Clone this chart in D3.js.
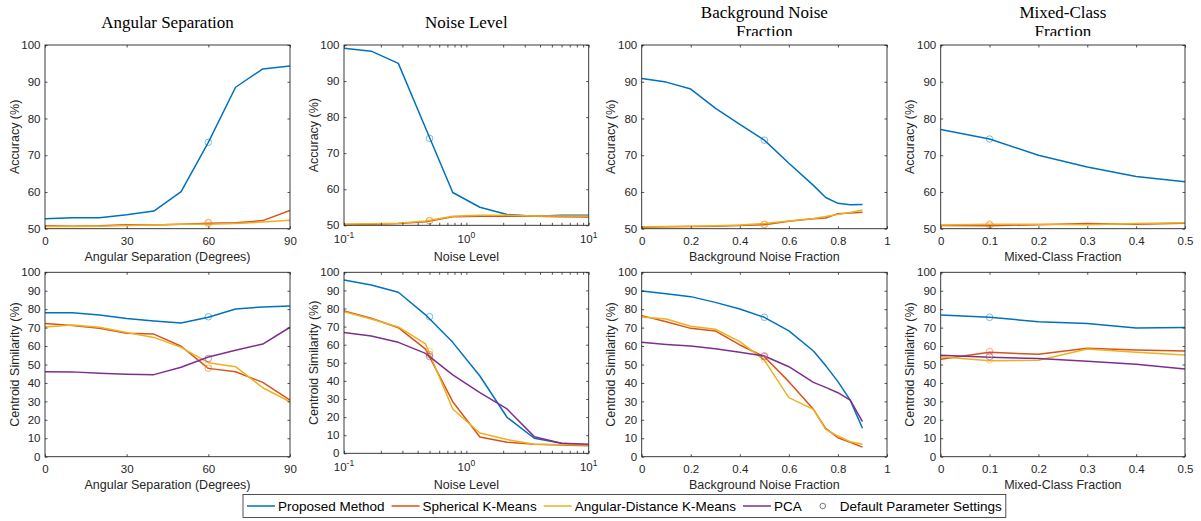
<!DOCTYPE html>
<html><head><meta charset="utf-8">
<script src="https://cdn.jsdelivr.net/npm/d3@7"></script>
<style>body{margin:0;background:#fff} svg{display:block}</style>
</head><body><svg id="c" width="1201" height="521"></svg>
<script>
// ---------- data ----------
const angSep   = [0, 10, 20, 30, 40, 50, 60, 70, 80, 90];
const noiseLvl = [0.1, 0.167, 0.278, 0.464, 0.774, 1.29, 2.15, 3.59, 5.99, 10];
const bgFrac   = [0, 0.1, 0.2, 0.3, 0.4, 0.5, 0.6, 0.7, 0.75, 0.8, 0.85, 0.9];
const mixFrac  = [0, 0.1, 0.2, 0.3, 0.4, 0.5];

const methodNames = ["Proposed Method", "Spherical K-Means", "Angular-Distance K-Means", "PCA"];
const defaultLabel = "Default Parameter Settings";
const titles = [["Angular Separation"], ["Noise Level"], ["Background Noise", "Fraction"], ["Mixed-Class", "Fraction"]];
const xLabels = ["Angular Separation (Degrees)", "Noise Level", "Background Noise Fraction", "Mixed-Class Fraction"];
const yLabels = ["Accuracy (%)", "Centroid Similarity (%)"];

const angTicks = [0, 30, 60, 90];
const noiseTicks = [0.1, 1, 10];
const noiseTickExp = ["-1", "0", "1"];
const bgTicks = [0, 0.2, 0.4, 0.6, 0.8, 1];
const mixTicks = [0, 0.1, 0.2, 0.3, 0.4, 0.5];
const accTicks = [50, 60, 70, 80, 90, 100];
const centTicks = [0, 10, 20, 30, 40, 50, 60, 70, 80, 90, 100];

// accuracy
const accAngProp = [52.7, 53.0, 53.0, 53.8, 54.8, 60.1, 73.5, 88.5, 93.5, 94.3];
const accAngSph  = [50.8, 50.7, 50.8, 51.1, 51.0, 51.2, 51.5, 51.6, 52.2, 55.0];
const accAngAng  = [50.6, 50.6, 50.7, 50.9, 51.0, 51.2, 51.2, 51.4, 51.8, 52.3];

const accNoiseProp = [99.1, 98.3, 94.9, 77.0, 59.1, 55.0, 53.0, 52.5, 52.8, 52.8];
const accNoiseSph  = [50.2, 50.3, 50.5, 51.0, 52.4, 52.5, 52.5, 52.5, 52.4, 52.3];
const accNoiseAng  = [50.3, 50.4, 50.6, 51.2, 52.5, 52.8, 52.8, 52.6, 52.6, 52.6];

const accBgProp = [90.9, 89.9, 88.0, 82.8, 78.4, 74.1, 67.8, 61.8, 58.5, 56.9, 56.5, 56.6];
const accBgSph  = [50.4, 50.5, 50.6, 50.7, 50.9, 51.1, 52.0, 52.7, 52.9, 54.1, 54.3, 54.5];
const accBgAng  = [50.5, 50.6, 50.7, 50.8, 51.0, 51.4, 52.1, 52.8, 53.3, 53.9, 54.4, 55.1];

const accMixProp = [77.0, 74.4, 70.0, 66.8, 64.2, 62.8];
const accMixSph  = [50.9, 50.8, 51.1, 51.4, 51.2, 51.5];
const accMixAng  = [51.0, 51.2, 51.2, 51.1, 51.4, 51.6];

// centroid similarity
const centAngProp = [78.1, 78.1, 76.9, 75.0, 73.6, 72.5, 75.6, 80.1, 81.2, 81.7];
const centAngSph  = [72.3, 71.1, 69.6, 66.9, 66.5, 59.9, 47.9, 46.1, 40.3, 30.7];
const centAngAng  = [70.3, 71.4, 70.2, 67.3, 64.7, 59.3, 51.0, 48.8, 37.4, 29.8];
const centAngPca  = [46.1, 46.0, 45.2, 44.7, 44.5, 48.5, 54.1, 57.7, 61.1, 70.2];

const centNoiseProp = [95.8, 93.0, 89.0, 76.5, 61.3, 42.7, 19.9, 8.3, 5.5, 4.6];
const centNoiseSph  = [78.6, 74.6, 69.4, 57.6, 28.5, 9.0, 6.1, 5.0, 4.6, 4.2];
const centNoiseAng  = [78.2, 74.2, 69.8, 60.4, 24.5, 11.2, 7.6, 5.0, 4.8, 4.6];
const centNoisePca  = [66.7, 64.8, 61.3, 55.2, 43.3, 33.5, 24.5, 9.2, 5.5, 5.0];

const centBgProp = [89.9, 88.4, 86.8, 83.7, 80.1, 75.6, 68.2, 57.3, 49.4, 40.7, 30.7, 15.4];
const centBgSph  = [76.5, 73.2, 69.6, 68.2, 60.6, 54.2, 40.7, 25.7, 15.4, 10.3, 7.8, 5.2];
const centBgAng  = [75.8, 74.7, 70.7, 69.1, 62.4, 52.4, 32.0, 25.7, 14.8, 11.2, 8.1, 6.7];
const centBgPca  = [62.0, 60.9, 60.0, 58.5, 56.6, 54.6, 48.8, 40.3, 37.6, 34.7, 30.7, 19.0];

const centMixProp = [76.9, 75.6, 73.2, 72.3, 69.8, 70.0];
const centMixSph  = [52.8, 56.6, 55.5, 58.8, 57.9, 57.3];
const centMixAng  = [54.2, 52.1, 52.3, 58.4, 56.6, 55.2];
const centMixPca  = [55.0, 53.9, 53.2, 51.7, 50.1, 47.6];

// default parameter settings (x, then values per method)
const defX = [60, 0.5, 0.5, 0.1];
const accDefaults  = [[73.5, 51.7, 51.3], [74.1, 51.3, 51.2], [74.1, 51.2, 51.1], [74.4, 51.0, 51.3]];
const centDefaults = [[75.9, 48.0, 50.0, 53.3], [75.5, 54.5, 56.3, 53.5], [75.6, 54.8, 52.8, 54.2], [75.6, 57.0, 52.5, 54.3]];

// ---------- style / layout ----------
const colors = ["#0072BD", "#D95319", "#EDB120", "#7E2F8E"];
const sans = "'Liberation Sans', Arial, Helvetica, sans-serif";
const serif = "'Liberation Serif', 'Times New Roman', serif";
const ink = "#262626";
const cols = [{x0: 45, x1: 290}, {x0: 344, x1: 588.7}, {x0: 641.7, x1: 887}, {x0: 940.7, x1: 1185}];
const rows = [{y0: 45, y1: 228.7, y1log: 225.3, lab: 261}, {y0: 272.3, y1: 456.7, y1log: 453.3, lab: 489}];
const tickLen = 2.5;

const xsList = [angSep, noiseLvl, bgFrac, mixFrac];
const xDomains = [[0, 90], [0.1, 10], [0, 1], [0, 0.5]];
const xTickList = [angTicks, noiseTicks, bgTicks, mixTicks];
const accSeries = [[accAngProp, accAngSph, accAngAng], [accNoiseProp, accNoiseSph, accNoiseAng],
                   [accBgProp, accBgSph, accBgAng], [accMixProp, accMixSph, accMixAng]];
const centSeries = [[centAngProp, centAngSph, centAngAng, centAngPca], [centNoiseProp, centNoiseSph, centNoiseAng, centNoisePca],
                    [centBgProp, centBgSph, centBgAng, centBgPca], [centMixProp, centMixSph, centMixAng, centMixPca]];

const svg = d3.select("#c");
svg.append("rect").attr("width", 1201).attr("height", 521).attr("fill", "#fff");

// title clip (second line partly hidden by the axes area)
svg.append("clipPath").attr("id", "titleClip").append("rect").attr("x", 0).attr("y", 0).attr("width", 1201).attr("height", 36);

function styleAxis(g) {
  g.attr("font-family", sans).attr("font-size", 11.5);
  g.selectAll("path.domain").remove();
  g.selectAll("line").attr("stroke", ink).attr("stroke-width", 0.8);
  g.selectAll("text").attr("fill", ink);
}

function drawPanel(col, row) {
  const c = cols[col], r = rows[row];
  const isLog = col === 1;
  const y1 = isLog ? r.y1log : r.y1;
  const x = (isLog ? d3.scaleLog() : d3.scaleLinear()).domain(xDomains[col]).range([c.x0, c.x1]);
  const y = d3.scaleLinear().domain(row === 0 ? [50, 100] : [0, 100]).range([y1, r.y0]);
  const yt = row === 0 ? accTicks : centTicks;
  const g = svg.append("g");

  const clipId = "clip" + col + "_" + row;
  g.append("clipPath").attr("id", clipId).append("rect")
    .attr("x", c.x0).attr("y", r.y0).attr("width", c.x1 - c.x0).attr("height", y1 - r.y0);

  const series = row === 0 ? accSeries[col] : centSeries[col];
  const xs = xsList[col];
  const line = d3.line().x((d, i) => x(xs[i])).y(d => y(d));
  const plot = g.append("g").attr("clip-path", `url(#${clipId})`);
  series.forEach((vals, k) => {
    plot.append("path").datum(vals).attr("d", line)
      .attr("fill", "none").attr("stroke", colors[k]).attr("stroke-width", 1.5).attr("stroke-linejoin", "round");
  });
  const defs = row === 0 ? accDefaults[col] : centDefaults[col];
  defs.forEach((v, k) => {
    g.append("circle").attr("cx", x(defX[col])).attr("cy", y(v)).attr("r", 3.3)
      .attr("fill", "none").attr("stroke", colors[k]).attr("stroke-opacity", 0.55).attr("stroke-width", 0.9);
  });

  // axes
  const xt = xTickList[col];
  let minor = [];
  if (isLog) {
    [0.1, 1].forEach(b => { for (let m = 2; m <= 9; m++) minor.push(b * m); });
  }
  const bottom = g.append("g").attr("transform", `translate(0,${y1})`)
    .call(d3.axisBottom(x).tickValues(xt).tickSize(-tickLen).tickSizeOuter(0).tickPadding(8)
      .tickFormat(isLog ? () => "" : d => String(d)));
  styleAxis(bottom);
  const top = g.append("g").attr("transform", `translate(0,${r.y0})`)
    .call(d3.axisTop(x).tickValues(xt).tickSize(-tickLen).tickSizeOuter(0).tickFormat(() => ""));
  styleAxis(top);
  if (isLog) {
    const mb = g.append("g").attr("transform", `translate(0,${y1})`)
      .call(d3.axisBottom(x).tickValues(minor).tickSize(-tickLen).tickSizeOuter(0).tickFormat(() => ""));
    styleAxis(mb);
    const mt = g.append("g").attr("transform", `translate(0,${r.y0})`)
      .call(d3.axisTop(x).tickValues(minor).tickSize(-tickLen).tickSizeOuter(0).tickFormat(() => ""));
    styleAxis(mt);
    xt.forEach((v, i) => {
      const t = g.append("text").attr("x", x(v)).attr("y", y1 + 18).attr("text-anchor", "middle")
        .attr("font-family", sans).attr("font-size", 11.5).attr("fill", ink);
      t.append("tspan").text("10");
      t.append("tspan").attr("dy", -5).attr("font-size", 8.5).text(noiseTickExp[i]);
    });
  }
  const left = g.append("g").attr("transform", `translate(${c.x0},0)`)
    .call(d3.axisLeft(y).tickValues(yt).tickSize(-tickLen).tickSizeOuter(0).tickPadding(4.5).tickFormat(d => String(d)));
  styleAxis(left);
  const right = g.append("g").attr("transform", `translate(${c.x1},0)`)
    .call(d3.axisRight(y).tickValues(yt).tickSize(-tickLen).tickSizeOuter(0).tickFormat(() => ""));
  styleAxis(right);

  g.append("rect").attr("x", c.x0).attr("y", r.y0).attr("width", c.x1 - c.x0).attr("height", y1 - r.y0)
    .attr("fill", "none").attr("stroke", ink).attr("stroke-width", 0.9);

  // labels
  g.append("text").attr("x", (c.x0 + c.x1) / 2).attr("y", r.lab).attr("text-anchor", "middle")
    .attr("font-family", sans).attr("font-size", 12.5).attr("fill", ink).text(xLabels[col]);
  const ym = (r.y0 + y1) / 2;
  g.append("text").attr("transform", `translate(${c.x0 - 26.5},${ym}) rotate(-90)`).attr("text-anchor", "middle")
    .attr("font-family", sans).attr("font-size", 12.5).attr("fill", ink).text(yLabels[row]);

  if (row === 0) {
    const tl = titles[col];
    const tg = g.append("g").attr("clip-path", "url(#titleClip)");
    const base = tl.length === 1 ? 28 : 17.5;
    tl.forEach((s, i) => {
      tg.append("text").attr("x", (c.x0 + c.x1) / 2).attr("y", base + i * 19).attr("text-anchor", "middle")
        .attr("font-family", serif).attr("font-size", 17).attr("fill", "#000").text(s);
    });
  }
}

for (let row = 0; row < 2; row++) for (let col = 0; col < 4; col++) drawPanel(col, row);

// ---------- legend ----------
const lg = svg.append("g");
const ly = 506;
let xp = 247;
const items = methodNames.map((n, k) => ({name: n, color: colors[k], type: "line"}))
  .concat([{name: defaultLabel, color: "#555", type: "circle"}]);
const box = lg.append("rect").attr("y", 494.5).attr("height", 23).attr("fill", "#fff")
  .attr("stroke", ink).attr("stroke-width", 0.8);
items.forEach(it => {
  if (it.type === "line") {
    lg.append("line").attr("x1", xp).attr("x2", xp + 28).attr("y1", ly).attr("y2", ly)
      .attr("stroke", it.color).attr("stroke-width", 1.5);
  } else {
    lg.append("circle").attr("cx", xp + 14).attr("cy", ly).attr("r", 2.8)
      .attr("fill", "none").attr("stroke", it.color).attr("stroke-width", 0.8);
  }
  const t = lg.append("text").attr("x", xp + 31).attr("y", ly + 5)
    .attr("font-family", sans).attr("font-size", 13.5).attr("fill", "#000").text(it.name);
  xp = xp + 31 + t.node().getComputedTextLength() + 7;
});
box.attr("x", 243).attr("width", xp - 7 + 4 - 243);
</script>
</body></html>
